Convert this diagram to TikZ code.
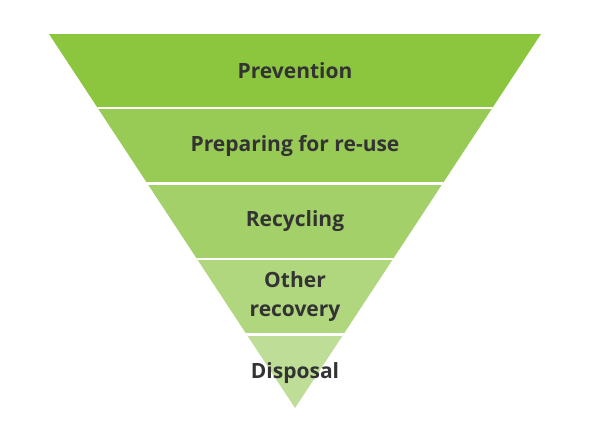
\documentclass[tikz,border=0pt]{standalone}
\usepackage{fontspec}
\setmainfont{Open Sans}
\usetikzlibrary{positioning}
\definecolor{cBandA}{HTML}{8CC63F}
\definecolor{cBandB}{HTML}{98CB55}
\definecolor{cBandC}{HTML}{A3D068}
\definecolor{cBandD}{HTML}{B0D67E}
\definecolor{cBandE}{HTML}{BEDD96}
\definecolor{cLabel}{HTML}{333333}
\tikzset{
  bandlabel/.style={font=\fontsize{21}{29}\selectfont\bfseries, text=cLabel,
    align=center, inner sep=0pt},
}

\begin{document}
\begin{tikzpicture}[x=1pt, y=-1pt]
  \useasboundingbox (0,0) rectangle (593,443);
  % funnel bands
  \begin{scope}
    \clip (49,34) -- (541,34) -- (295,408) -- cycle;
    \foreach \t/\b/\c in {34/108/cBandA, 108/183.5/cBandB, 183.5/259/cBandC,
                          259/334.5/cBandD, 334.5/410/cBandE}
      \fill[\c] (0,\t) rectangle (593,\b);
    \foreach \y in {108, 183.5, 259, 334.5}
      \draw[white, line width=2.6pt] (0,\y) -- (593,\y);
  \end{scope}
  % labels
  \node[bandlabel] (prevention) at (295,71)  {Prevention};
  \node[bandlabel] (reuse)      at (295,146) {Preparing for re-use};
  \node[bandlabel] (recycling)  at (295,221) {Recycling};
  \node[bandlabel] (recovery)   at (295,297) {Other\\recovery};
  \node[bandlabel] (disposal)   at (295,373) {Disposal};
\end{tikzpicture}
\end{document}
